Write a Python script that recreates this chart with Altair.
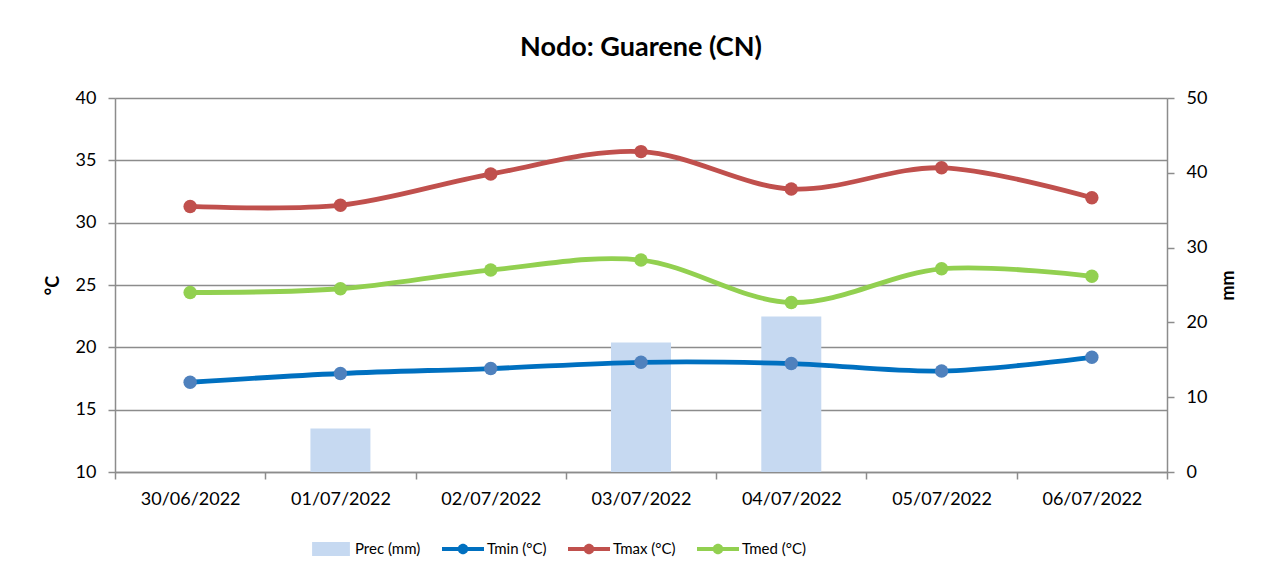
import altair as alt
import pandas as pd

# ---- data ----
dates = ["30/06/2022", "01/07/2022", "02/07/2022", "03/07/2022",
         "04/07/2022", "05/07/2022", "06/07/2022"]
prec_mm = [0.0, 5.8, 0.0, 17.3, 20.8, 0.0, 0.0]
tmin = [17.2, 17.9, 18.3, 18.8, 18.7, 18.1, 19.2]
tmax = [31.3, 31.4, 33.9, 35.7, 32.7, 34.4, 32.0]
tmed = [24.4, 24.7, 26.2, 27.0, 23.6, 26.3, 25.7]
temp_ticks = [10, 15, 20, 25, 30, 35, 40]
mm_ticks = [0, 10, 20, 30, 40, 50]
series_names = ["Prec (mm)", "Tmin (°C)", "Tmax (°C)", "Tmed (°C)"]

title_text = "Nodo: Guarene (CN)"

# ---- styling ----
FONT = "Lato"
GRAY = "#8C8C8C"
C_PREC = "#C6D9F1"
C_TMIN_LINE = "#0070C0"
C_TMIN_PT = "#4F81BD"
C_TMAX = "#C0504D"
C_TMED = "#92D050"

df = pd.DataFrame({"date": dates, "prec": prec_mm,
                   "tmin": tmin, "tmax": tmax, "tmed": tmed})

x_axis = alt.Axis(title=None, labelAngle=0, tickBand="extent", labelFont=FONT,
                  labelFontSize=18, labelColor="black", labelPadding=11,
                  tickSize=7, tickColor=GRAY, tickWidth=1.5,
                  domainColor=GRAY, domainWidth=1.5, grid=False)
x_enc = alt.X("date:N", sort=dates,
              scale=alt.Scale(paddingInner=0, paddingOuter=0), axis=x_axis)

temp_axis = alt.Axis(title="°C", values=temp_ticks, grid=True, gridColor=GRAY,
                     gridWidth=1.5, domainColor=GRAY, domainWidth=1.5,
                     tickColor=GRAY, tickWidth=1.5, tickSize=7,
                     labelFont=FONT, labelFontSize=18, labelColor="black",
                     labelPadding=12, titleFont=FONT, titleFontSize=18,
                     titleFontWeight="bold", titleColor="black",
                     titleAngle=270, titleBaseline="bottom", titlePadding=13,
                     orient="left")
temp_scale = alt.Scale(domain=[10, 40], nice=False, zero=False)

mm_axis = alt.Axis(title="mm", values=mm_ticks, grid=False,
                   domainColor=GRAY, domainWidth=1.5, tickColor=GRAY,
                   tickWidth=1.5, tickSize=7, labelFont=FONT, labelFontSize=18,
                   labelColor="black", labelPadding=12, titleFont=FONT,
                   titleFontSize=18, titleFontWeight="bold", titleColor="black",
                   titleAngle=270, titleBaseline="top", titlePadding=13,
                   orient="right")

base = alt.Chart(df)

bars = base.mark_bar(size=60, color=C_PREC).encode(
    x=x_enc,
    y=alt.Y("prec:Q", scale=alt.Scale(domain=[0, 50], nice=False), axis=mm_axis),
)


def series_layers(col, line_color, pt_color):
    y = alt.Y(f"{col}:Q", scale=temp_scale, axis=temp_axis)
    line = base.mark_line(interpolate="cardinal", strokeWidth=4.8,
                          color=line_color).encode(x=x_enc, y=y)
    pts = base.mark_circle(size=180, color=pt_color, opacity=1).encode(x=x_enc, y=y)
    return [line, pts]


# legend symbols (unit-square paths scaled by symbol size)
rect_path = "M-0.9,-0.33H0.9V0.33H-0.9Z"
line_dot_path = ("M-1,-0.1H1V0.1H-1Z "
                 "M-0.25,0A0.25,0.25,0,1,1,0.25,0A0.25,0.25,0,1,1,-0.25,0Z")

legend_df = pd.DataFrame({"series": series_names})
legend_kw = dict(title=None, orient="none", legendX=195, legendY=430,
                 direction="horizontal", symbolSize=1764, symbolStrokeWidth=0,
                 symbolOpacity=1, labelFont=FONT, labelFontSize=15,
                 labelColor="black", labelOffset=3, columnPadding=21)
legend_layer = alt.Chart(legend_df).mark_point(filled=True, opacity=1).encode(
    color=alt.Color("series:N", sort=series_names,
                    scale=alt.Scale(domain=series_names,
                                    range=[C_PREC, C_TMIN_LINE, C_TMAX, C_TMED]),
                    legend=alt.Legend(**legend_kw)),
    shape=alt.Shape("series:N", sort=series_names,
                    scale=alt.Scale(domain=series_names,
                                    range=[rect_path, line_dot_path,
                                           line_dot_path, line_dot_path]),
                    legend=alt.Legend(**legend_kw)),
).transform_filter("false")

temps = alt.layer(
    *series_layers("tmin", C_TMIN_LINE, C_TMIN_PT),
    *series_layers("tmax", C_TMAX, C_TMAX),
    *series_layers("tmed", C_TMED, C_TMED),
    legend_layer,
)

chart = alt.layer(bars, temps).resolve_scale(y="independent").properties(
    width=1052, height=374,
    title=alt.Title(title_text, font=FONT, fontSize=27, fontWeight="bold",
                    color="black", offset=27, anchor="middle", frame="group"),
    autosize=alt.AutoSizeParams(type="none"),
    padding={"left": 107, "top": 90, "right": 99, "bottom": 98},
).configure_view(stroke=None).configure(background="white")

chart.save("out.html", embed_options={"renderer": "svg", "actions": False})
